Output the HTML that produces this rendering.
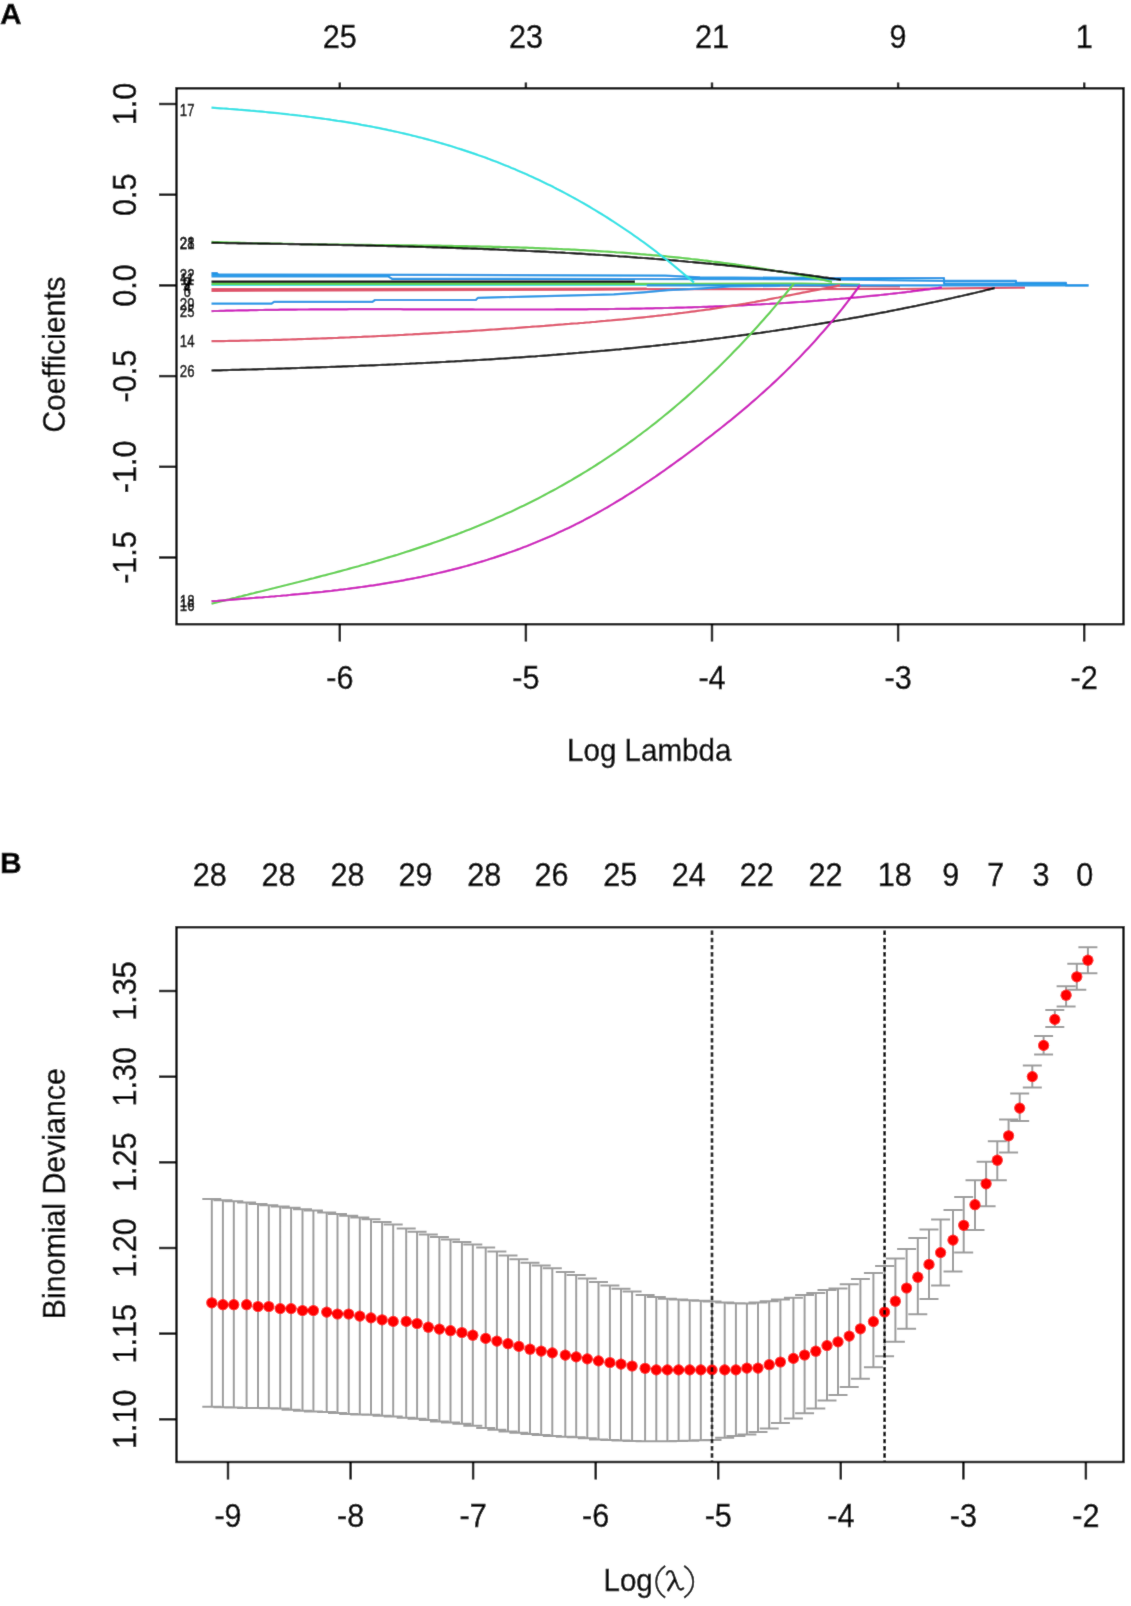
<!DOCTYPE html><html><head><meta charset="utf-8"><style>html,body{margin:0;padding:0;background:#fff;width:1131px;height:1606px;overflow:hidden}svg{position:absolute;left:0;top:0;display:block}text{font-family:"Liberation Sans",sans-serif;fill:#000;stroke:#000;stroke-width:0.4px}</style></head><body>
<svg width="1131" height="1606" viewBox="0 0 1131 1606">
<defs><filter id="soft" x="0" y="0" width="1131" height="1606" filterUnits="userSpaceOnUse"><feConvolveMatrix order="3" kernelMatrix="0.015 0.065 0.015 0.065 0.68 0.065 0.015 0.065 0.015" edgeMode="duplicate"/></filter></defs>
<g filter="url(#soft)"><rect x="0" y="0" width="1131" height="1606" fill="#fff"/>
<text x="0" y="24" font-size="30" font-weight="bold">A</text>
<text x="0" y="872.5" font-size="30" font-weight="bold">B</text>
<path d="M211.5,290.8 L600.0,289.6 L646.0,289.2 L900.0,289.0 L1025.0,287.6" fill="none" stroke="#DF536B" stroke-width="2.2" stroke-linejoin="round" />
<path d="M211.5,289.2 L646.7,288.6" fill="none" stroke="#DF536B" stroke-width="2.2" stroke-linejoin="round" />
<path d="M646.7,285.0 L712.0,285.0 L900.0,286.5" fill="none" stroke="#DF536B" stroke-width="2.2" stroke-linejoin="round" />
<path d="M211.5,284.9 L646.7,284.9" fill="none" stroke="#28E2E5" stroke-width="2.2" stroke-linejoin="round" />
<path d="M211.5,283.8 L700.0,283.8 L802.0,283.5 L860.0,284.5" fill="none" stroke="#61D04F" stroke-width="2.2" stroke-linejoin="round" />
<path d="M211.5,281.7 L635.0,281.7" fill="none" stroke="#000000" stroke-width="2.2" stroke-linejoin="round" />
<path d="M646.7,285.4 L1066.0,285.4" fill="none" stroke="#2297E6" stroke-width="2.2" stroke-linejoin="round" />
<path d="M211.5,276.4 L388.0,276.4 L392.0,278.8 L830.0,279.3 L944.0,281.0 L944.0,283.6 L1066.0,283.6 L1066.0,285.3 L1088.5,285.3" fill="none" stroke="#2297E6" stroke-width="2.2" stroke-linejoin="round" />
<path d="M211.5,274.6 L440.0,274.8 L665.0,275.6 L700.0,277.3 L830.0,278.2 L944.0,278.2 L944.0,280.8 L1016.0,280.8 L1016.0,282.8 L1066.0,282.8 L1066.0,285.3 L1088.5,285.3" fill="none" stroke="#2297E6" stroke-width="2.2" stroke-linejoin="round" />
<path d="M211.5,273.2 L217.0,273.2 L218.0,274.6" fill="none" stroke="#2297E6" stroke-width="2.2" stroke-linejoin="round" />
<path d="M211.5,303.6 L271.6,303.6 L274.0,301.8 L372.4,301.8 L375.0,300.0 L475.8,300.0 L478.0,297.8 L613.8,294.4 L643.5,292.3 L668.0,290.2 L700.0,288.6 L730.0,286.5 L780.0,285.8" fill="none" stroke="#2297E6" stroke-width="2.2" stroke-linejoin="round" />
<path d="M211.5,311.1 L214.5,311.0 L217.5,311.0 L220.5,310.9 L223.5,310.8 L226.5,310.7 L229.5,310.6 L232.5,310.6 L235.5,310.5 L238.5,310.4 L241.5,310.4 L244.5,310.3 L247.5,310.3 L250.5,310.2 L253.5,310.1 L256.5,310.1 L259.5,310.0 L262.5,310.0 L265.5,309.9 L268.5,309.9 L271.5,309.9 L274.5,309.8 L277.5,309.8 L280.5,309.7 L283.5,309.7 L286.5,309.7 L289.5,309.6 L292.5,309.6 L295.5,309.6 L298.5,309.5 L301.5,309.5 L304.5,309.5 L307.5,309.5 L310.5,309.4 L313.5,309.4 L316.5,309.4 L319.5,309.4 L322.5,309.4 L325.5,309.3 L328.5,309.3 L331.5,309.3 L334.5,309.3 L337.5,309.3 L340.5,309.3 L343.5,309.3 L346.5,309.3 L349.5,309.2 L352.5,309.2 L355.5,309.2 L358.5,309.2 L361.5,309.2 L364.5,309.2 L367.5,309.2 L370.5,309.2 L373.5,309.2 L376.5,309.2 L379.5,309.2 L382.5,309.2 L385.5,309.2 L388.5,309.2 L391.5,309.2 L394.5,309.2 L397.5,309.2 L400.5,309.2 L403.5,309.3 L406.5,309.3 L409.5,309.3 L412.5,309.3 L415.5,309.3 L418.5,309.3 L421.5,309.3 L424.5,309.3 L427.5,309.3 L430.5,309.3 L433.5,309.3 L436.5,309.3 L439.5,309.3 L442.5,309.4 L445.5,309.4 L448.5,309.4 L451.5,309.4 L454.5,309.4 L457.5,309.4 L460.5,309.4 L463.5,309.4 L466.5,309.4 L469.5,309.4 L472.5,309.4 L475.5,309.5 L478.5,309.5 L481.5,309.5 L484.5,309.5 L487.5,309.5 L490.5,309.5 L493.5,309.5 L496.5,309.5 L499.5,309.5 L502.5,309.5 L505.5,309.5 L508.5,309.5 L511.5,309.5 L514.5,309.5 L517.5,309.5 L520.5,309.5 L523.5,309.5 L526.5,309.5 L529.5,309.5 L532.5,309.5 L535.5,309.5 L538.5,309.5 L541.5,309.5 L544.5,309.5 L547.5,309.5 L550.5,309.5 L553.5,309.5 L556.5,309.4 L559.5,309.4 L562.5,309.4 L565.5,309.4 L568.5,309.4 L571.5,309.4 L574.5,309.4 L577.5,309.3 L580.5,309.3 L583.5,309.3 L586.5,309.3 L589.5,309.2 L592.5,309.2 L595.5,309.2 L598.5,309.2 L601.5,309.1 L604.5,309.1 L607.5,309.1 L610.5,309.0 L613.5,309.0 L616.5,308.9 L619.5,308.9 L622.5,308.9 L625.5,308.8 L628.5,308.8 L631.5,308.7 L634.5,308.7 L637.5,308.6 L640.5,308.6 L643.5,308.5 L646.5,308.4 L649.5,308.4 L652.5,308.3 L655.5,308.2 L658.5,308.2 L661.5,308.1 L664.5,308.0 L667.5,308.0 L670.5,307.9 L673.5,307.8 L676.5,307.7 L679.5,307.6 L682.5,307.6 L685.5,307.5 L688.5,307.4 L691.5,307.3 L694.5,307.2 L697.5,307.1 L700.5,307.0 L703.5,306.9 L706.5,306.8 L709.5,306.7 L712.5,306.6 L715.5,306.4 L718.5,306.3 L721.5,306.2 L724.5,306.1 L727.5,306.0 L730.5,305.8 L733.5,305.7 L736.5,305.6 L739.5,305.4 L742.5,305.3 L745.5,305.1 L748.5,305.0 L751.5,304.8 L754.5,304.7 L757.5,304.5 L760.5,304.4 L763.5,304.2 L766.5,304.0 L769.5,303.9 L772.5,303.7 L775.5,303.5 L778.5,303.3 L781.5,303.2 L784.5,303.0 L787.5,302.8 L790.5,302.6 L793.5,302.4 L796.5,302.2 L799.5,302.0 L802.5,301.8 L805.5,301.6 L808.5,301.3 L811.5,301.1 L814.5,300.9 L817.5,300.7 L820.5,300.4 L823.5,300.2 L826.5,300.0 L829.5,299.7 L832.5,299.5 L835.5,299.2 L838.5,299.0 L841.5,298.7 L844.5,298.5 L847.5,298.2 L850.5,297.9 L853.5,297.6 L856.5,297.4 L859.5,297.1 L862.5,296.8 L865.5,296.5 L868.5,296.2 L871.5,295.9 L874.5,295.6 L877.5,295.3 L880.5,295.0 L883.5,294.7 L886.5,294.3 L889.5,294.0 L892.5,293.7 L895.5,293.3 L898.5,293.0 L901.5,292.7 L904.5,292.3 L907.5,291.9 L910.5,291.6 L913.5,291.2 L916.5,290.9 L919.5,290.5 L922.5,290.1 L925.5,289.7 L928.5,289.3 L931.5,288.9 L934.5,288.5 L937.5,288.1 L940.5,287.7 L942.0,287.5" fill="none" stroke="#CD0BBC" stroke-width="2.2" stroke-linejoin="round" />
<path d="M211.5,341.2 L214.5,341.2 L217.5,341.1 L220.5,341.1 L223.5,341.1 L226.5,341.0 L229.5,340.9 L232.5,340.9 L235.5,340.8 L238.5,340.8 L241.5,340.7 L244.5,340.7 L247.5,340.6 L250.5,340.5 L253.5,340.5 L256.5,340.4 L259.5,340.3 L262.5,340.2 L265.5,340.2 L268.5,340.1 L271.5,340.0 L274.5,339.9 L277.5,339.9 L280.5,339.8 L283.5,339.7 L286.5,339.6 L289.5,339.5 L292.5,339.4 L295.5,339.3 L298.5,339.2 L301.5,339.1 L304.5,339.0 L307.5,338.9 L310.5,338.8 L313.5,338.7 L316.5,338.6 L319.5,338.5 L322.5,338.4 L325.5,338.3 L328.5,338.2 L331.5,338.1 L334.5,338.0 L337.5,337.9 L340.5,337.7 L343.5,337.6 L346.5,337.5 L349.5,337.4 L352.5,337.2 L355.5,337.1 L358.5,337.0 L361.5,336.9 L364.5,336.7 L367.5,336.6 L370.5,336.5 L373.5,336.3 L376.5,336.2 L379.5,336.0 L382.5,335.9 L385.5,335.8 L388.5,335.6 L391.5,335.5 L394.5,335.3 L397.5,335.2 L400.5,335.0 L403.5,334.9 L406.5,334.7 L409.5,334.5 L412.5,334.4 L415.5,334.2 L418.5,334.1 L421.5,333.9 L424.5,333.7 L427.5,333.6 L430.5,333.4 L433.5,333.2 L436.5,333.1 L439.5,332.9 L442.5,332.7 L445.5,332.5 L448.5,332.4 L451.5,332.2 L454.5,332.0 L457.5,331.8 L460.5,331.6 L463.5,331.4 L466.5,331.3 L469.5,331.1 L472.5,330.9 L475.5,330.7 L478.5,330.5 L481.5,330.3 L484.5,330.1 L487.5,329.9 L490.5,329.7 L493.5,329.5 L496.5,329.3 L499.5,329.1 L502.5,328.9 L505.5,328.7 L508.5,328.5 L511.5,328.3 L514.5,328.1 L517.5,327.8 L520.5,327.6 L523.5,327.4 L526.5,327.2 L529.5,327.0 L532.5,326.7 L535.5,326.5 L538.5,326.3 L541.5,326.1 L544.5,325.9 L547.5,325.6 L550.5,325.4 L553.5,325.2 L556.5,324.9 L559.5,324.7 L562.5,324.5 L565.5,324.2 L568.5,324.0 L571.5,323.7 L574.5,323.5 L577.5,323.3 L580.5,323.0 L583.5,322.8 L586.5,322.5 L589.5,322.3 L592.5,322.0 L595.5,321.8 L598.5,321.5 L601.5,321.2 L604.5,321.0 L607.5,320.7 L610.5,320.5 L613.5,320.2 L616.5,319.9 L619.5,319.6 L622.5,319.4 L625.5,319.1 L628.5,318.8 L631.5,318.5 L634.5,318.2 L637.5,317.9 L640.5,317.6 L643.5,317.3 L646.5,317.0 L649.5,316.7 L652.5,316.3 L655.5,316.0 L658.5,315.7 L661.5,315.4 L664.5,315.0 L667.5,314.7 L670.5,314.3 L673.5,314.0 L676.5,313.6 L679.5,313.2 L682.5,312.9 L685.5,312.5 L688.5,312.1 L691.5,311.7 L694.5,311.3 L697.5,310.9 L700.5,310.5 L703.5,310.1 L706.5,309.7 L709.5,309.3 L712.5,308.8 L715.5,308.4 L718.5,307.9 L721.5,307.5 L724.5,307.0 L727.5,306.5 L730.5,306.1 L733.5,305.6 L736.5,305.1 L739.5,304.6 L742.5,304.1 L745.5,303.6 L748.5,303.0 L751.5,302.5 L754.5,302.0 L757.5,301.4 L760.5,300.9 L763.5,300.3 L766.5,299.8 L769.5,299.2 L772.5,298.6 L775.5,298.0 L778.5,297.5 L781.5,296.9 L784.5,296.3 L787.5,295.7 L790.5,295.1 L793.5,294.5 L796.5,293.9 L799.5,293.3 L802.5,292.7 L805.5,292.2 L808.5,291.6 L811.5,291.0 L814.5,290.4 L817.5,289.8 L820.5,289.2 L823.5,288.6 L826.5,288.0 L829.5,287.4 L832.5,286.8 L835.5,286.3 L838.5,285.7 L840.0,285.4" fill="none" stroke="#DF536B" stroke-width="2.2" stroke-linejoin="round" />
<path d="M211.5,370.5 L214.5,370.4 L217.5,370.3 L220.5,370.3 L223.5,370.2 L226.5,370.1 L229.5,370.0 L232.5,369.9 L235.5,369.9 L238.5,369.8 L241.5,369.7 L244.5,369.6 L247.5,369.5 L250.5,369.5 L253.5,369.4 L256.5,369.3 L259.5,369.2 L262.5,369.1 L265.5,369.0 L268.5,368.9 L271.5,368.8 L274.5,368.8 L277.5,368.7 L280.5,368.6 L283.5,368.5 L286.5,368.4 L289.5,368.3 L292.5,368.2 L295.5,368.1 L298.5,368.0 L301.5,367.9 L304.5,367.8 L307.5,367.7 L310.5,367.6 L313.5,367.5 L316.5,367.4 L319.5,367.3 L322.5,367.2 L325.5,367.1 L328.5,367.0 L331.5,366.9 L334.5,366.8 L337.5,366.7 L340.5,366.6 L343.5,366.4 L346.5,366.3 L349.5,366.2 L352.5,366.1 L355.5,366.0 L358.5,365.9 L361.5,365.7 L364.5,365.6 L367.5,365.5 L370.5,365.4 L373.5,365.3 L376.5,365.1 L379.5,365.0 L382.5,364.9 L385.5,364.8 L388.5,364.6 L391.5,364.5 L394.5,364.4 L397.5,364.2 L400.5,364.1 L403.5,364.0 L406.5,363.8 L409.5,363.7 L412.5,363.5 L415.5,363.4 L418.5,363.2 L421.5,363.1 L424.5,363.0 L427.5,362.8 L430.5,362.7 L433.5,362.5 L436.5,362.3 L439.5,362.2 L442.5,362.0 L445.5,361.9 L448.5,361.7 L451.5,361.5 L454.5,361.4 L457.5,361.2 L460.5,361.1 L463.5,360.9 L466.5,360.7 L469.5,360.5 L472.5,360.4 L475.5,360.2 L478.5,360.0 L481.5,359.8 L484.5,359.6 L487.5,359.5 L490.5,359.3 L493.5,359.1 L496.5,358.9 L499.5,358.7 L502.5,358.5 L505.5,358.3 L508.5,358.1 L511.5,357.9 L514.5,357.7 L517.5,357.5 L520.5,357.3 L523.5,357.1 L526.5,356.9 L529.5,356.7 L532.5,356.5 L535.5,356.3 L538.5,356.0 L541.5,355.8 L544.5,355.6 L547.5,355.4 L550.5,355.1 L553.5,354.9 L556.5,354.7 L559.5,354.4 L562.5,354.2 L565.5,354.0 L568.5,353.7 L571.5,353.5 L574.5,353.2 L577.5,353.0 L580.5,352.7 L583.5,352.5 L586.5,352.2 L589.5,352.0 L592.5,351.7 L595.5,351.5 L598.5,351.2 L601.5,350.9 L604.5,350.7 L607.5,350.4 L610.5,350.1 L613.5,349.8 L616.5,349.5 L619.5,349.3 L622.5,349.0 L625.5,348.7 L628.5,348.4 L631.5,348.1 L634.5,347.8 L637.5,347.5 L640.5,347.2 L643.5,346.9 L646.5,346.6 L649.5,346.3 L652.5,346.0 L655.5,345.7 L658.5,345.3 L661.5,345.0 L664.5,344.7 L667.5,344.4 L670.5,344.0 L673.5,343.7 L676.5,343.4 L679.5,343.0 L682.5,342.7 L685.5,342.4 L688.5,342.0 L691.5,341.7 L694.5,341.3 L697.5,340.9 L700.5,340.6 L703.5,340.2 L706.5,339.9 L709.5,339.5 L712.5,339.1 L715.5,338.7 L718.5,338.4 L721.5,338.0 L724.5,337.6 L727.5,337.2 L730.5,336.8 L733.5,336.4 L736.5,336.0 L739.5,335.6 L742.5,335.2 L745.5,334.8 L748.5,334.4 L751.5,334.0 L754.5,333.6 L757.5,333.2 L760.5,332.8 L763.5,332.3 L766.5,331.9 L769.5,331.5 L772.5,331.0 L775.5,330.6 L778.5,330.1 L781.5,329.7 L784.5,329.2 L787.5,328.8 L790.5,328.3 L793.5,327.9 L796.5,327.4 L799.5,326.9 L802.5,326.5 L805.5,326.0 L808.5,325.5 L811.5,325.0 L814.5,324.6 L817.5,324.1 L820.5,323.6 L823.5,323.1 L826.5,322.6 L829.5,322.1 L832.5,321.6 L835.5,321.0 L838.5,320.5 L841.5,320.0 L844.5,319.5 L847.5,319.0 L850.5,318.4 L853.5,317.9 L856.5,317.4 L859.5,316.8 L862.5,316.3 L865.5,315.7 L868.5,315.2 L871.5,314.6 L874.5,314.1 L877.5,313.5 L880.5,312.9 L883.5,312.3 L886.5,311.8 L889.5,311.2 L892.5,310.6 L895.5,310.0 L898.5,309.4 L901.5,308.8 L904.5,308.2 L907.5,307.6 L910.5,307.0 L913.5,306.4 L916.5,305.8 L919.5,305.1 L922.5,304.5 L925.5,303.9 L928.5,303.2 L931.5,302.6 L934.5,302.0 L937.5,301.3 L940.5,300.7 L943.5,300.0 L946.5,299.3 L949.5,298.7 L952.5,298.0 L955.5,297.3 L958.5,296.6 L961.5,296.0 L964.5,295.3 L967.5,294.6 L970.5,293.9 L973.5,293.2 L976.5,292.5 L979.5,291.8 L982.5,291.1 L985.5,290.3 L988.5,289.6 L991.5,288.9 L994.5,288.1 L994.7,288.1" fill="none" stroke="#000000" stroke-width="2.2" stroke-linejoin="round" />
<path d="M211.5,241.9 L214.5,242.0 L217.5,242.1 L220.5,242.2 L223.5,242.3 L226.5,242.4 L229.5,242.5 L232.5,242.6 L235.5,242.6 L238.5,242.7 L241.5,242.8 L244.5,242.9 L247.5,243.0 L250.5,243.1 L253.5,243.1 L256.5,243.2 L259.5,243.3 L262.5,243.4 L265.5,243.4 L268.5,243.5 L271.5,243.6 L274.5,243.6 L277.5,243.7 L280.5,243.7 L283.5,243.8 L286.5,243.8 L289.5,243.9 L292.5,243.9 L295.5,244.0 L298.5,244.0 L301.5,244.1 L304.5,244.1 L307.5,244.2 L310.5,244.2 L313.5,244.3 L316.5,244.3 L319.5,244.4 L322.5,244.4 L325.5,244.4 L328.5,244.5 L331.5,244.5 L334.5,244.5 L337.5,244.6 L340.5,244.6 L343.5,244.6 L346.5,244.7 L349.5,244.7 L352.5,244.7 L355.5,244.8 L358.5,244.8 L361.5,244.8 L364.5,244.9 L367.5,244.9 L370.5,244.9 L373.5,245.0 L376.5,245.0 L379.5,245.0 L382.5,245.1 L385.5,245.1 L388.5,245.1 L391.5,245.2 L394.5,245.2 L397.5,245.2 L400.5,245.3 L403.5,245.3 L406.5,245.3 L409.5,245.4 L412.5,245.4 L415.5,245.4 L418.5,245.5 L421.5,245.5 L424.5,245.5 L427.5,245.6 L430.5,245.6 L433.5,245.7 L436.5,245.7 L439.5,245.7 L442.5,245.8 L445.5,245.8 L448.5,245.9 L451.5,245.9 L454.5,246.0 L457.5,246.0 L460.5,246.1 L463.5,246.1 L466.5,246.2 L469.5,246.3 L472.5,246.3 L475.5,246.4 L478.5,246.4 L481.5,246.5 L484.5,246.6 L487.5,246.6 L490.5,246.7 L493.5,246.8 L496.5,246.9 L499.5,246.9 L502.5,247.0 L505.5,247.1 L508.5,247.2 L511.5,247.3 L514.5,247.4 L517.5,247.4 L520.5,247.5 L523.5,247.6 L526.5,247.7 L529.5,247.8 L532.5,247.9 L535.5,248.1 L538.5,248.2 L541.5,248.3 L544.5,248.4 L547.5,248.5 L550.5,248.6 L553.5,248.8 L556.5,248.9 L559.5,249.0 L562.5,249.2 L565.5,249.3 L568.5,249.4 L571.5,249.6 L574.5,249.7 L577.5,249.9 L580.5,250.1 L583.5,250.2 L586.5,250.4 L589.5,250.6 L592.5,250.7 L595.5,250.9 L598.5,251.1 L601.5,251.3 L604.5,251.5 L607.5,251.6 L610.5,251.8 L613.5,252.0 L616.5,252.3 L619.5,252.5 L622.5,252.7 L625.5,252.9 L628.5,253.1 L631.5,253.4 L634.5,253.6 L637.5,253.8 L640.5,254.1 L643.5,254.3 L646.5,254.6 L649.5,254.8 L652.5,255.1 L655.5,255.3 L658.5,255.6 L661.5,255.9 L664.5,256.2 L667.5,256.5 L670.5,256.8 L673.5,257.1 L676.5,257.4 L679.5,257.7 L682.5,258.0 L685.5,258.3 L688.5,258.6 L691.5,259.0 L694.5,259.3 L697.5,259.6 L700.5,260.0 L703.5,260.4 L706.5,260.7 L709.5,261.1 L712.5,261.5 L715.5,261.8 L718.5,262.2 L721.5,262.6 L724.5,263.0 L727.5,263.4 L730.5,263.8 L733.5,264.2 L736.5,264.7 L739.5,265.1 L742.5,265.5 L745.5,266.0 L748.5,266.4 L751.5,266.9 L754.5,267.3 L757.5,267.8 L760.5,268.3 L763.5,268.8 L766.5,269.3 L769.5,269.8 L772.5,270.3 L775.5,270.8 L778.5,271.3 L781.5,271.8 L784.5,272.4 L787.5,272.9 L790.5,273.5 L793.5,274.0 L796.5,274.6 L799.5,275.1 L802.5,275.7 L805.5,276.3 L808.5,276.9 L811.5,277.5 L814.5,278.1 L817.5,278.7 L820.5,279.4 L823.5,280.0 L826.5,280.7 L829.5,281.3 L832.0,281.9" fill="none" stroke="#61D04F" stroke-width="2.2" stroke-linejoin="round" />
<path d="M211.5,242.8 L214.5,242.9 L217.5,242.9 L220.5,243.0 L223.5,243.0 L226.5,243.1 L229.5,243.1 L232.5,243.2 L235.5,243.2 L238.5,243.3 L241.5,243.3 L244.5,243.3 L247.5,243.4 L250.5,243.4 L253.5,243.5 L256.5,243.5 L259.5,243.6 L262.5,243.6 L265.5,243.7 L268.5,243.7 L271.5,243.8 L274.5,243.8 L277.5,243.9 L280.5,243.9 L283.5,244.0 L286.5,244.0 L289.5,244.1 L292.5,244.1 L295.5,244.2 L298.5,244.2 L301.5,244.3 L304.5,244.3 L307.5,244.4 L310.5,244.4 L313.5,244.5 L316.5,244.5 L319.5,244.6 L322.5,244.7 L325.5,244.7 L328.5,244.8 L331.5,244.8 L334.5,244.9 L337.5,244.9 L340.5,245.0 L343.5,245.1 L346.5,245.1 L349.5,245.2 L352.5,245.2 L355.5,245.3 L358.5,245.4 L361.5,245.4 L364.5,245.5 L367.5,245.6 L370.5,245.6 L373.5,245.7 L376.5,245.8 L379.5,245.9 L382.5,245.9 L385.5,246.0 L388.5,246.1 L391.5,246.1 L394.5,246.2 L397.5,246.3 L400.5,246.4 L403.5,246.5 L406.5,246.5 L409.5,246.6 L412.5,246.7 L415.5,246.8 L418.5,246.9 L421.5,246.9 L424.5,247.0 L427.5,247.1 L430.5,247.2 L433.5,247.3 L436.5,247.4 L439.5,247.5 L442.5,247.6 L445.5,247.7 L448.5,247.8 L451.5,247.9 L454.5,248.0 L457.5,248.1 L460.5,248.2 L463.5,248.3 L466.5,248.4 L469.5,248.5 L472.5,248.6 L475.5,248.7 L478.5,248.8 L481.5,248.9 L484.5,249.1 L487.5,249.2 L490.5,249.3 L493.5,249.4 L496.5,249.5 L499.5,249.7 L502.5,249.8 L505.5,249.9 L508.5,250.1 L511.5,250.2 L514.5,250.3 L517.5,250.5 L520.5,250.6 L523.5,250.7 L526.5,250.9 L529.5,251.0 L532.5,251.2 L535.5,251.3 L538.5,251.4 L541.5,251.6 L544.5,251.7 L547.5,251.9 L550.5,252.1 L553.5,252.2 L556.5,252.4 L559.5,252.5 L562.5,252.7 L565.5,252.9 L568.5,253.0 L571.5,253.2 L574.5,253.4 L577.5,253.6 L580.5,253.7 L583.5,253.9 L586.5,254.1 L589.5,254.3 L592.5,254.5 L595.5,254.7 L598.5,254.8 L601.5,255.0 L604.5,255.2 L607.5,255.4 L610.5,255.6 L613.5,255.8 L616.5,256.0 L619.5,256.3 L622.5,256.5 L625.5,256.7 L628.5,256.9 L631.5,257.1 L634.5,257.3 L637.5,257.6 L640.5,257.8 L643.5,258.0 L646.5,258.2 L649.5,258.5 L652.5,258.7 L655.5,259.0 L658.5,259.2 L661.5,259.4 L664.5,259.7 L667.5,259.9 L670.5,260.2 L673.5,260.4 L676.5,260.7 L679.5,261.0 L682.5,261.2 L685.5,261.5 L688.5,261.8 L691.5,262.0 L694.5,262.3 L697.5,262.6 L700.5,262.9 L703.5,263.2 L706.5,263.5 L709.5,263.7 L712.5,264.0 L715.5,264.3 L718.5,264.6 L721.5,264.9 L724.5,265.2 L727.5,265.6 L730.5,265.9 L733.5,266.2 L736.5,266.5 L739.5,266.8 L742.5,267.2 L745.5,267.5 L748.5,267.8 L751.5,268.2 L754.5,268.5 L757.5,268.8 L760.5,269.2 L763.5,269.5 L766.5,269.9 L769.5,270.2 L772.5,270.6 L775.5,271.0 L778.5,271.3 L781.5,271.7 L784.5,272.1 L787.5,272.5 L790.5,272.8 L793.5,273.2 L796.5,273.6 L799.5,274.0 L802.5,274.4 L805.5,274.8 L808.5,275.2 L811.5,275.6 L814.5,276.0 L817.5,276.4 L820.5,276.8 L823.5,277.3 L826.5,277.7 L829.5,278.1 L832.5,278.5 L835.5,279.0 L838.5,279.4 L841.0,279.8" fill="none" stroke="#000000" stroke-width="2.2" stroke-linejoin="round" />
<path d="M211.5,107.7 L214.5,107.9 L217.5,108.1 L220.5,108.3 L223.5,108.5 L226.5,108.7 L229.5,109.0 L232.5,109.2 L235.5,109.4 L238.5,109.7 L241.5,109.9 L244.5,110.1 L247.5,110.4 L250.5,110.7 L253.5,110.9 L256.5,111.2 L259.5,111.4 L262.5,111.7 L265.5,112.0 L268.5,112.3 L271.5,112.6 L274.5,112.9 L277.5,113.2 L280.5,113.5 L283.5,113.8 L286.5,114.1 L289.5,114.5 L292.5,114.8 L295.5,115.1 L298.5,115.5 L301.5,115.9 L304.5,116.2 L307.5,116.6 L310.5,117.0 L313.5,117.4 L316.5,117.8 L319.5,118.2 L322.5,118.6 L325.5,119.0 L328.5,119.4 L331.5,119.9 L334.5,120.3 L337.5,120.8 L340.5,121.2 L343.5,121.7 L346.5,122.2 L349.5,122.7 L352.5,123.2 L355.5,123.7 L358.5,124.2 L361.5,124.8 L364.5,125.3 L367.5,125.9 L370.5,126.4 L373.5,127.0 L376.5,127.6 L379.5,128.2 L382.5,128.8 L385.5,129.4 L388.5,130.1 L391.5,130.7 L394.5,131.4 L397.5,132.0 L400.5,132.7 L403.5,133.4 L406.5,134.1 L409.5,134.8 L412.5,135.6 L415.5,136.3 L418.5,137.1 L421.5,137.8 L424.5,138.6 L427.5,139.4 L430.5,140.2 L433.5,141.0 L436.5,141.9 L439.5,142.7 L442.5,143.6 L445.5,144.5 L448.5,145.4 L451.5,146.3 L454.5,147.2 L457.5,148.2 L460.5,149.1 L463.5,150.1 L466.5,151.1 L469.5,152.1 L472.5,153.1 L475.5,154.1 L478.5,155.2 L481.5,156.2 L484.5,157.3 L487.5,158.4 L490.5,159.6 L493.5,160.7 L496.5,161.8 L499.5,163.0 L502.5,164.2 L505.5,165.4 L508.5,166.6 L511.5,167.9 L514.5,169.1 L517.5,170.4 L520.5,171.7 L523.5,173.0 L526.5,174.3 L529.5,175.7 L532.5,177.0 L535.5,178.4 L538.5,179.8 L541.5,181.2 L544.5,182.7 L547.5,184.2 L550.5,185.6 L553.5,187.1 L556.5,188.7 L559.5,190.2 L562.5,191.8 L565.5,193.4 L568.5,195.0 L571.5,196.6 L574.5,198.2 L577.5,199.9 L580.5,201.6 L583.5,203.3 L586.5,205.0 L589.5,206.8 L592.5,208.6 L595.5,210.4 L598.5,212.2 L601.5,214.0 L604.5,215.9 L607.5,217.8 L610.5,219.7 L613.5,221.6 L616.5,223.6 L619.5,225.6 L622.5,227.6 L625.5,229.6 L628.5,231.6 L631.5,233.7 L634.5,235.8 L637.5,237.9 L640.5,240.1 L643.5,242.2 L646.5,244.4 L649.5,246.7 L652.5,248.9 L655.5,251.2 L658.5,253.5 L661.5,255.8 L664.5,258.1 L667.5,260.5 L670.5,262.9 L673.5,265.3 L676.5,267.8 L679.5,270.3 L682.5,272.8 L685.5,275.3 L688.5,277.8 L691.5,280.4 L694.0,282.6" fill="none" stroke="#28E2E5" stroke-width="2.2" stroke-linejoin="round" />
<path d="M211.5,603.8 L214.5,603.0 L217.5,602.2 L220.5,601.5 L223.5,600.7 L226.5,599.9 L229.5,599.2 L232.5,598.4 L235.5,597.7 L238.5,596.9 L241.5,596.2 L244.5,595.4 L247.5,594.7 L250.5,593.9 L253.5,593.2 L256.5,592.4 L259.5,591.7 L262.5,591.0 L265.5,590.2 L268.5,589.5 L271.5,588.7 L274.5,588.0 L277.5,587.2 L280.5,586.5 L283.5,585.7 L286.5,585.0 L289.5,584.2 L292.5,583.5 L295.5,582.7 L298.5,582.0 L301.5,581.2 L304.5,580.5 L307.5,579.7 L310.5,578.9 L313.5,578.2 L316.5,577.4 L319.5,576.6 L322.5,575.8 L325.5,575.1 L328.5,574.3 L331.5,573.5 L334.5,572.7 L337.5,571.9 L340.5,571.1 L343.5,570.3 L346.5,569.5 L349.5,568.6 L352.5,567.8 L355.5,567.0 L358.5,566.2 L361.5,565.3 L364.5,564.5 L367.5,563.6 L370.5,562.8 L373.5,561.9 L376.5,561.0 L379.5,560.1 L382.5,559.2 L385.5,558.3 L388.5,557.4 L391.5,556.5 L394.5,555.6 L397.5,554.7 L400.5,553.7 L403.5,552.8 L406.5,551.8 L409.5,550.9 L412.5,549.9 L415.5,548.9 L418.5,547.9 L421.5,546.9 L424.5,545.9 L427.5,544.9 L430.5,543.9 L433.5,542.8 L436.5,541.8 L439.5,540.7 L442.5,539.6 L445.5,538.5 L448.5,537.4 L451.5,536.3 L454.5,535.2 L457.5,534.1 L460.5,532.9 L463.5,531.8 L466.5,530.6 L469.5,529.4 L472.5,528.2 L475.5,527.0 L478.5,525.8 L481.5,524.5 L484.5,523.3 L487.5,522.0 L490.5,520.7 L493.5,519.4 L496.5,518.1 L499.5,516.8 L502.5,515.5 L505.5,514.1 L508.5,512.7 L511.5,511.4 L514.5,510.0 L517.5,508.5 L520.5,507.1 L523.5,505.7 L526.5,504.2 L529.5,502.7 L532.5,501.2 L535.5,499.7 L538.5,498.2 L541.5,496.6 L544.5,495.0 L547.5,493.4 L550.5,491.8 L553.5,490.2 L556.5,488.6 L559.5,486.9 L562.5,485.2 L565.5,483.5 L568.5,481.8 L571.5,480.1 L574.5,478.3 L577.5,476.5 L580.5,474.7 L583.5,472.9 L586.5,471.1 L589.5,469.2 L592.5,467.4 L595.5,465.5 L598.5,463.5 L601.5,461.6 L604.5,459.6 L607.5,457.6 L610.5,455.6 L613.5,453.6 L616.5,451.6 L619.5,449.5 L622.5,447.4 L625.5,445.3 L628.5,443.1 L631.5,441.0 L634.5,438.8 L637.5,436.5 L640.5,434.3 L643.5,432.0 L646.5,429.8 L649.5,427.5 L652.5,425.1 L655.5,422.8 L658.5,420.4 L661.5,418.0 L664.5,415.5 L667.5,413.1 L670.5,410.6 L673.5,408.1 L676.5,405.5 L679.5,403.0 L682.5,400.4 L685.5,397.8 L688.5,395.1 L691.5,392.5 L694.5,389.8 L697.5,387.0 L700.5,384.3 L703.5,381.5 L706.5,378.7 L709.5,375.8 L712.5,373.0 L715.5,370.1 L718.5,367.2 L721.5,364.2 L724.5,361.2 L727.5,358.2 L730.5,355.2 L733.5,352.1 L736.5,349.0 L739.5,345.9 L742.5,342.7 L745.5,339.5 L748.5,336.3 L751.5,333.0 L754.5,329.8 L757.5,326.4 L760.5,323.1 L763.5,319.7 L766.5,316.3 L769.5,312.9 L772.5,309.4 L775.5,305.9 L778.5,302.3 L781.5,298.8 L784.5,295.2 L787.5,291.5 L790.5,287.8 L793.5,284.1 L794.0,283.5" fill="none" stroke="#61D04F" stroke-width="2.2" stroke-linejoin="round" />
<path d="M211.5,601.2 L214.5,601.0 L217.5,600.8 L220.5,600.5 L223.5,600.3 L226.5,600.1 L229.5,599.8 L232.5,599.6 L235.5,599.4 L238.5,599.1 L241.5,598.9 L244.5,598.7 L247.5,598.5 L250.5,598.2 L253.5,598.0 L256.5,597.7 L259.5,597.5 L262.5,597.3 L265.5,597.0 L268.5,596.8 L271.5,596.5 L274.5,596.3 L277.5,596.0 L280.5,595.8 L283.5,595.5 L286.5,595.3 L289.5,595.0 L292.5,594.7 L295.5,594.4 L298.5,594.2 L301.5,593.9 L304.5,593.6 L307.5,593.3 L310.5,593.0 L313.5,592.7 L316.5,592.4 L319.5,592.1 L322.5,591.8 L325.5,591.4 L328.5,591.1 L331.5,590.8 L334.5,590.4 L337.5,590.1 L340.5,589.7 L343.5,589.4 L346.5,589.0 L349.5,588.6 L352.5,588.2 L355.5,587.8 L358.5,587.4 L361.5,587.0 L364.5,586.6 L367.5,586.2 L370.5,585.7 L373.5,585.3 L376.5,584.8 L379.5,584.4 L382.5,583.9 L385.5,583.4 L388.5,582.9 L391.5,582.4 L394.5,581.9 L397.5,581.4 L400.5,580.8 L403.5,580.3 L406.5,579.7 L409.5,579.2 L412.5,578.6 L415.5,578.0 L418.5,577.4 L421.5,576.8 L424.5,576.1 L427.5,575.5 L430.5,574.8 L433.5,574.2 L436.5,573.5 L439.5,572.8 L442.5,572.1 L445.5,571.4 L448.5,570.6 L451.5,569.9 L454.5,569.1 L457.5,568.4 L460.5,567.6 L463.5,566.8 L466.5,566.0 L469.5,565.1 L472.5,564.3 L475.5,563.4 L478.5,562.5 L481.5,561.6 L484.5,560.7 L487.5,559.8 L490.5,558.8 L493.5,557.9 L496.5,556.9 L499.5,555.9 L502.5,554.9 L505.5,553.9 L508.5,552.8 L511.5,551.8 L514.5,550.7 L517.5,549.6 L520.5,548.5 L523.5,547.3 L526.5,546.2 L529.5,545.0 L532.5,543.8 L535.5,542.6 L538.5,541.3 L541.5,540.1 L544.5,538.8 L547.5,537.5 L550.5,536.2 L553.5,534.9 L556.5,533.5 L559.5,532.1 L562.5,530.7 L565.5,529.3 L568.5,527.9 L571.5,526.4 L574.5,525.0 L577.5,523.4 L580.5,521.9 L583.5,520.4 L586.5,518.8 L589.5,517.2 L592.5,515.6 L595.5,514.0 L598.5,512.3 L601.5,510.6 L604.5,508.9 L607.5,507.2 L610.5,505.4 L613.5,503.6 L616.5,501.8 L619.5,500.0 L622.5,498.2 L625.5,496.3 L628.5,494.4 L631.5,492.5 L634.5,490.6 L637.5,488.6 L640.5,486.7 L643.5,484.7 L646.5,482.7 L649.5,480.7 L652.5,478.6 L655.5,476.6 L658.5,474.5 L661.5,472.4 L664.5,470.3 L667.5,468.2 L670.5,466.0 L673.5,463.9 L676.5,461.7 L679.5,459.5 L682.5,457.3 L685.5,455.1 L688.5,452.9 L691.5,450.6 L694.5,448.4 L697.5,446.1 L700.5,443.8 L703.5,441.5 L706.5,439.2 L709.5,436.9 L712.5,434.6 L715.5,432.2 L718.5,429.9 L721.5,427.5 L724.5,425.1 L727.5,422.7 L730.5,420.3 L733.5,417.8 L736.5,415.3 L739.5,412.9 L742.5,410.4 L745.5,407.8 L748.5,405.3 L751.5,402.7 L754.5,400.1 L757.5,397.5 L760.5,394.8 L763.5,392.1 L766.5,389.4 L769.5,386.7 L772.5,383.9 L775.5,381.1 L778.5,378.2 L781.5,375.4 L784.5,372.5 L787.5,369.5 L790.5,366.6 L793.5,363.5 L796.5,360.5 L799.5,357.4 L802.5,354.3 L805.5,351.1 L808.5,347.9 L811.5,344.7 L814.5,341.4 L817.5,338.0 L820.5,334.6 L823.5,331.2 L826.5,327.7 L829.5,324.2 L832.5,320.6 L835.5,317.0 L838.5,313.3 L841.5,309.6 L844.5,305.8 L847.5,301.9 L850.5,298.0 L853.5,294.0 L856.5,290.0 L859.5,285.9 L860.0,285.2" fill="none" stroke="#CD0BBC" stroke-width="2.2" stroke-linejoin="round" />
<text transform="translate(187.20,115.70) scale(0.91,1.13)" font-size="14.5" text-anchor="middle" stroke="#000" stroke-width="0.35">17</text>
<text transform="translate(187.20,248.90) scale(0.91,1.13)" font-size="14.5" text-anchor="middle" stroke="#000" stroke-width="0.35">28</text>
<text transform="translate(187.20,248.60) scale(0.91,1.13)" font-size="14.5" text-anchor="middle" stroke="#000" stroke-width="0.35">21</text>
<text transform="translate(187.20,280.60) scale(0.91,1.13)" font-size="14.5" text-anchor="middle" stroke="#000" stroke-width="0.35">22</text>
<text transform="translate(187.20,284.60) scale(0.91,1.13)" font-size="14.5" text-anchor="middle" stroke="#000" stroke-width="0.35">11</text>
<text transform="translate(187.20,289.00) scale(0.91,1.13)" font-size="14.5" text-anchor="middle" stroke="#000" stroke-width="0.35">9</text>
<text transform="translate(187.20,292.80) scale(0.91,1.13)" font-size="14.5" text-anchor="middle" stroke="#000" stroke-width="0.35">4</text>
<text transform="translate(187.20,296.80) scale(0.91,1.13)" font-size="14.5" text-anchor="middle" stroke="#000" stroke-width="0.35">6</text>
<text transform="translate(187.20,310.30) scale(0.91,1.13)" font-size="14.5" text-anchor="middle" stroke="#000" stroke-width="0.35">29</text>
<text transform="translate(187.20,317.40) scale(0.91,1.13)" font-size="14.5" text-anchor="middle" stroke="#000" stroke-width="0.35">25</text>
<text transform="translate(187.20,347.10) scale(0.91,1.13)" font-size="14.5" text-anchor="middle" stroke="#000" stroke-width="0.35">14</text>
<text transform="translate(187.20,376.60) scale(0.91,1.13)" font-size="14.5" text-anchor="middle" stroke="#000" stroke-width="0.35">26</text>
<text transform="translate(187.20,606.90) scale(0.91,1.13)" font-size="14.5" text-anchor="middle" stroke="#000" stroke-width="0.35">18</text>
<text transform="translate(187.20,610.60) scale(0.91,1.13)" font-size="14.5" text-anchor="middle" stroke="#000" stroke-width="0.35">16</text>
<rect x="176.5" y="88.3" width="947.0" height="535.9000000000001" fill="none" stroke="#000" stroke-width="2.4"/>
<line x1="159" y1="104.0" x2="176.5" y2="104.0" stroke="#000" stroke-width="2.4"/>
<text transform="translate(135.50,104.00) rotate(-90) scale(1.02,1.12)" font-size="30" text-anchor="middle" >1.0</text>
<line x1="159" y1="194.7" x2="176.5" y2="194.7" stroke="#000" stroke-width="2.4"/>
<text transform="translate(135.50,194.70) rotate(-90) scale(1.02,1.12)" font-size="30" text-anchor="middle" >0.5</text>
<line x1="159" y1="285.4" x2="176.5" y2="285.4" stroke="#000" stroke-width="2.4"/>
<text transform="translate(135.50,285.40) rotate(-90) scale(1.02,1.12)" font-size="30" text-anchor="middle" >0.0</text>
<line x1="159" y1="376.1" x2="176.5" y2="376.1" stroke="#000" stroke-width="2.4"/>
<text transform="translate(135.50,376.10) rotate(-90) scale(1.02,1.12)" font-size="30" text-anchor="middle" >-0.5</text>
<line x1="159" y1="466.8" x2="176.5" y2="466.8" stroke="#000" stroke-width="2.4"/>
<text transform="translate(135.50,466.80) rotate(-90) scale(1.02,1.12)" font-size="30" text-anchor="middle" >-1.0</text>
<line x1="159" y1="557.5" x2="176.5" y2="557.5" stroke="#000" stroke-width="2.4"/>
<text transform="translate(135.50,557.50) rotate(-90) scale(1.02,1.12)" font-size="30" text-anchor="middle" >-1.5</text>
<line x1="339.8" y1="624.2" x2="339.8" y2="641.5" stroke="#000" stroke-width="2.4"/>
<text transform="translate(339.80,688.50) scale(1.02,1.12)" font-size="30" text-anchor="middle" >-6</text>
<line x1="339.8" y1="88.3" x2="339.8" y2="82.5" stroke="#000" stroke-width="2.4"/>
<line x1="525.9" y1="624.2" x2="525.9" y2="641.5" stroke="#000" stroke-width="2.4"/>
<text transform="translate(525.90,688.50) scale(1.02,1.12)" font-size="30" text-anchor="middle" >-5</text>
<line x1="525.9" y1="88.3" x2="525.9" y2="82.5" stroke="#000" stroke-width="2.4"/>
<line x1="712.0" y1="624.2" x2="712.0" y2="641.5" stroke="#000" stroke-width="2.4"/>
<text transform="translate(712.00,688.50) scale(1.02,1.12)" font-size="30" text-anchor="middle" >-4</text>
<line x1="712.0" y1="88.3" x2="712.0" y2="82.5" stroke="#000" stroke-width="2.4"/>
<line x1="898.1" y1="624.2" x2="898.1" y2="641.5" stroke="#000" stroke-width="2.4"/>
<text transform="translate(898.10,688.50) scale(1.02,1.12)" font-size="30" text-anchor="middle" >-3</text>
<line x1="898.1" y1="88.3" x2="898.1" y2="82.5" stroke="#000" stroke-width="2.4"/>
<line x1="1084.2" y1="624.2" x2="1084.2" y2="641.5" stroke="#000" stroke-width="2.4"/>
<text transform="translate(1084.20,688.50) scale(1.02,1.12)" font-size="30" text-anchor="middle" >-2</text>
<line x1="1084.2" y1="88.3" x2="1084.2" y2="82.5" stroke="#000" stroke-width="2.4"/>
<text transform="translate(339.80,47.50) scale(1.02,1.12)" font-size="30" text-anchor="middle" >25</text>
<text transform="translate(525.90,47.50) scale(1.02,1.12)" font-size="30" text-anchor="middle" >23</text>
<text transform="translate(712.00,47.50) scale(1.02,1.12)" font-size="30" text-anchor="middle" >21</text>
<text transform="translate(898.10,47.50) scale(1.02,1.12)" font-size="30" text-anchor="middle" >9</text>
<text transform="translate(1084.20,47.50) scale(1.02,1.12)" font-size="30" text-anchor="middle" >1</text>
<text transform="translate(649.20,761.00) scale(0.985,1.04)" font-size="30" text-anchor="middle" >Log Lambda</text>
<text transform="translate(65.00,354.50) rotate(-90) scale(1.0,1.04)" font-size="30" text-anchor="middle" >Coefficients</text>
<path d="M211.8,1199.1V1406.8M202.3,1199.1H221.3M202.3,1406.8H221.3M222.9,1200.2V1407.2M213.4,1200.2H232.4M213.4,1407.2H232.4M233.8,1201.2V1407.6M224.3,1201.2H243.3M224.3,1407.6H243.3M246.6,1202.6V1407.9M237.1,1202.6H256.1M237.1,1407.9H256.1M258.0,1203.9V1408.1M248.5,1203.9H267.5M248.5,1408.1H267.5M268.8,1205.2V1408.3M259.3,1205.2H278.3M259.3,1408.3H278.3M280.2,1206.5V1408.6M270.7,1206.5H289.7M270.7,1408.6H289.7M291.1,1207.8V1409.7M281.6,1207.8H300.6M281.6,1409.7H300.6M302.5,1209.2V1410.8M293.0,1209.2H312.0M293.0,1410.8H312.0M313.4,1210.6V1411.4M303.9,1210.6H322.9M303.9,1411.4H322.9M326.7,1212.4V1412.1M317.2,1212.4H336.2M317.2,1412.1H336.2M337.5,1214.1V1413.0M328.0,1214.1H347.0M328.0,1413.0H347.0M348.7,1215.8V1414.0M339.2,1215.8H358.2M339.2,1414.0H358.2M359.8,1217.5V1414.4M350.3,1217.5H369.3M350.3,1414.4H369.3M371.0,1219.3V1414.8M361.5,1219.3H380.5M361.5,1414.8H380.5M382.1,1222.0V1415.7M372.6,1222.0H391.6M372.6,1415.7H391.6M393.2,1224.6V1416.6M383.7,1224.6H402.7M383.7,1416.6H402.7M406.2,1228.5V1417.7M396.7,1228.5H415.7M396.7,1417.7H415.7M417.1,1231.7V1418.7M407.6,1231.7H426.6M407.6,1418.7H426.6M428.3,1234.4V1420.1M418.8,1234.4H437.8M418.8,1420.1H437.8M439.4,1237.0V1421.4M429.9,1237.0H448.9M429.9,1421.4H448.9M450.5,1239.4V1422.5M441.0,1239.4H460.0M441.0,1422.5H460.0M461.9,1241.9V1423.7M452.4,1241.9H471.4M452.4,1423.7H471.4M472.8,1244.5V1425.7M463.3,1244.5H482.3M463.3,1425.7H482.3M485.7,1247.6V1428.0M476.2,1247.6H495.2M476.2,1428.0H495.2M496.9,1251.6V1429.8M487.4,1251.6H506.4M487.4,1429.8H506.4M508.0,1255.6V1431.5M498.5,1255.6H517.5M498.5,1431.5H517.5M518.9,1259.2V1432.8M509.4,1259.2H528.4M509.4,1432.8H528.4M530.0,1262.8V1434.1M520.5,1262.8H539.5M520.5,1434.1H539.5M541.2,1265.6V1435.1M531.7,1265.6H550.7M531.7,1435.1H550.7M552.3,1268.3V1436.0M542.8,1268.3H561.8M542.8,1436.0H561.8M565.3,1271.9V1436.7M555.8,1271.9H574.8M555.8,1436.7H574.8M576.2,1275.0V1437.3M566.7,1275.0H585.7M566.7,1437.3H585.7M587.3,1278.5V1438.3M577.8,1278.5H596.8M577.8,1438.3H596.8M598.5,1282.1V1439.4M589.0,1282.1H608.0M589.0,1439.4H608.0M609.9,1285.5V1440.0M600.4,1285.5H619.4M600.4,1440.0H619.4M621.0,1288.8V1440.5M611.5,1288.8H630.5M611.5,1440.5H630.5M632.1,1291.6V1440.9M622.6,1291.6H641.6M622.6,1440.9H641.6M645.1,1294.9V1441.3M635.6,1294.9H654.6M635.6,1441.3H654.6M656.3,1296.9V1441.3M646.8,1296.9H665.8M646.8,1441.3H665.8M667.4,1298.8V1441.3M657.9,1298.8H676.9M657.9,1441.3H676.9M678.6,1299.5V1441.0M669.1,1299.5H688.1M669.1,1441.0H688.1M689.7,1300.2V1440.7M680.2,1300.2H699.2M680.2,1440.7H699.2M700.8,1300.8V1440.3M691.3,1300.8H710.3M691.3,1440.3H710.3M712.0,1301.5V1439.9M702.5,1301.5H721.5M702.5,1439.9H721.5M724.7,1302.5V1437.8M715.2,1302.5H734.2M715.2,1437.8H734.2M735.9,1303.3V1436.0M726.4,1303.3H745.4M726.4,1436.0H745.4M746.9,1303.4V1434.6M737.4,1303.4H756.4M737.4,1434.6H756.4M758.0,1302.5V1431.9M748.5,1302.5H767.5M748.5,1431.9H767.5M769.2,1301.2V1428.5M759.7,1301.2H778.7M759.7,1428.5H778.7M780.4,1299.6V1422.9M770.9,1299.6H789.9M770.9,1422.9H789.9M793.4,1297.8V1418.5M783.9,1297.8H802.9M783.9,1418.5H802.9M804.6,1295.1V1413.3M795.1,1295.1H814.1M795.1,1413.3H814.1M815.8,1292.9V1408.4M806.3,1292.9H825.3M806.3,1408.4H825.3M827.0,1290.0V1400.5M817.5,1290.0H836.5M817.5,1400.5H836.5M838.0,1288.4V1394.9M828.5,1288.4H847.5M828.5,1394.9H847.5M849.2,1284.3V1387.1M839.7,1284.3H858.7M839.7,1387.1H858.7M860.4,1279.0V1378.8M850.9,1279.0H869.9M850.9,1378.8H869.9M873.4,1273.1V1367.3M863.9,1273.1H882.9M863.9,1367.3H882.9M884.6,1266.0V1356.3M875.1,1266.0H894.1M875.1,1356.3H894.1M895.4,1258.6V1341.8M885.9,1258.6H904.9M885.9,1341.8H904.9M906.6,1249.1V1328.7M897.1,1249.1H916.1M897.1,1328.7H916.1M917.8,1237.9V1314.2M908.3,1237.9H927.3M908.3,1314.2H927.3M929.0,1229.4V1299.1M919.5,1229.4H938.5M919.5,1299.1H938.5M940.6,1219.5V1285.4M931.1,1219.5H950.1M931.1,1285.4H950.1M953.0,1210.1V1271.5M943.5,1210.1H962.5M943.5,1271.5H962.5M963.7,1196.9V1252.5M954.2,1196.9H973.2M954.2,1252.5H973.2M975.0,1180.3V1230.0M965.5,1180.3H984.5M965.5,1230.0H984.5M986.1,1161.8V1206.3M976.6,1161.8H995.6M976.6,1206.3H995.6M997.3,1141.3V1180.3M987.8,1141.3H1006.8M987.8,1180.3H1006.8M1008.6,1119.5V1152.6M999.1,1119.5H1018.1M999.1,1152.6H1018.1M1019.7,1093.5V1121.1M1010.2,1093.5H1029.2M1010.2,1121.1H1029.2M1032.3,1065.5V1087.5M1022.8,1065.5H1041.8M1022.8,1087.5H1041.8M1043.6,1035.9V1054.4M1034.1,1035.9H1053.1M1034.1,1054.4H1053.1M1054.8,1009.9V1027.0M1045.3,1009.9H1064.3M1045.3,1027.0H1064.3M1066.1,986.3V1006.4M1056.6,986.3H1075.6M1056.6,1006.4H1075.6M1076.8,963.8V989.8M1067.3,963.8H1086.3M1067.3,989.8H1086.3M1087.9,947.2V973.2M1078.4,947.2H1097.4M1078.4,973.2H1097.4" fill="none" stroke="#9C9C9C" stroke-width="2"/>
<circle cx="211.8" cy="1302.8" r="5.6" fill="#FF0000"/>
<circle cx="222.9" cy="1304.7" r="5.6" fill="#FF0000"/>
<circle cx="233.8" cy="1304.7" r="5.6" fill="#FF0000"/>
<circle cx="246.6" cy="1304.7" r="5.6" fill="#FF0000"/>
<circle cx="258.0" cy="1306.5" r="5.6" fill="#FF0000"/>
<circle cx="268.8" cy="1306.5" r="5.6" fill="#FF0000"/>
<circle cx="280.2" cy="1308.6" r="5.6" fill="#FF0000"/>
<circle cx="291.1" cy="1308.6" r="5.6" fill="#FF0000"/>
<circle cx="302.5" cy="1310.5" r="5.6" fill="#FF0000"/>
<circle cx="313.4" cy="1310.5" r="5.6" fill="#FF0000"/>
<circle cx="326.7" cy="1312.1" r="5.6" fill="#FF0000"/>
<circle cx="337.5" cy="1314.0" r="5.6" fill="#FF0000"/>
<circle cx="348.7" cy="1314.0" r="5.6" fill="#FF0000"/>
<circle cx="359.8" cy="1316.1" r="5.6" fill="#FF0000"/>
<circle cx="371.0" cy="1317.9" r="5.6" fill="#FF0000"/>
<circle cx="382.1" cy="1319.8" r="5.6" fill="#FF0000"/>
<circle cx="393.2" cy="1321.4" r="5.6" fill="#FF0000"/>
<circle cx="406.2" cy="1321.4" r="5.6" fill="#FF0000"/>
<circle cx="417.1" cy="1323.5" r="5.6" fill="#FF0000"/>
<circle cx="428.3" cy="1327.2" r="5.6" fill="#FF0000"/>
<circle cx="439.4" cy="1329.1" r="5.6" fill="#FF0000"/>
<circle cx="450.5" cy="1330.7" r="5.6" fill="#FF0000"/>
<circle cx="461.9" cy="1332.5" r="5.6" fill="#FF0000"/>
<circle cx="472.8" cy="1335.2" r="5.6" fill="#FF0000"/>
<circle cx="485.7" cy="1338.4" r="5.6" fill="#FF0000"/>
<circle cx="496.9" cy="1341.1" r="5.6" fill="#FF0000"/>
<circle cx="508.0" cy="1343.7" r="5.6" fill="#FF0000"/>
<circle cx="518.9" cy="1346.4" r="5.6" fill="#FF0000"/>
<circle cx="530.0" cy="1349.2" r="5.6" fill="#FF0000"/>
<circle cx="541.2" cy="1351.1" r="5.6" fill="#FF0000"/>
<circle cx="552.3" cy="1352.9" r="5.6" fill="#FF0000"/>
<circle cx="565.3" cy="1355.1" r="5.6" fill="#FF0000"/>
<circle cx="576.2" cy="1356.9" r="5.6" fill="#FF0000"/>
<circle cx="587.3" cy="1358.9" r="5.6" fill="#FF0000"/>
<circle cx="598.5" cy="1360.9" r="5.6" fill="#FF0000"/>
<circle cx="609.9" cy="1362.5" r="5.6" fill="#FF0000"/>
<circle cx="621.0" cy="1364.1" r="5.6" fill="#FF0000"/>
<circle cx="632.1" cy="1366.0" r="5.6" fill="#FF0000"/>
<circle cx="645.1" cy="1368.3" r="5.6" fill="#FF0000"/>
<circle cx="656.3" cy="1369.9" r="5.6" fill="#FF0000"/>
<circle cx="667.4" cy="1369.9" r="5.6" fill="#FF0000"/>
<circle cx="678.6" cy="1369.9" r="5.6" fill="#FF0000"/>
<circle cx="689.7" cy="1369.9" r="5.6" fill="#FF0000"/>
<circle cx="700.8" cy="1369.9" r="5.6" fill="#FF0000"/>
<circle cx="712.0" cy="1369.9" r="5.6" fill="#FF0000"/>
<circle cx="724.7" cy="1369.9" r="5.6" fill="#FF0000"/>
<circle cx="735.9" cy="1369.9" r="5.6" fill="#FF0000"/>
<circle cx="746.9" cy="1368.1" r="5.6" fill="#FF0000"/>
<circle cx="758.0" cy="1368.1" r="5.6" fill="#FF0000"/>
<circle cx="769.2" cy="1364.7" r="5.6" fill="#FF0000"/>
<circle cx="780.4" cy="1362.0" r="5.6" fill="#FF0000"/>
<circle cx="793.4" cy="1358.4" r="5.6" fill="#FF0000"/>
<circle cx="804.6" cy="1355.0" r="5.6" fill="#FF0000"/>
<circle cx="815.8" cy="1351.2" r="5.6" fill="#FF0000"/>
<circle cx="827.0" cy="1345.6" r="5.6" fill="#FF0000"/>
<circle cx="838.0" cy="1341.8" r="5.6" fill="#FF0000"/>
<circle cx="849.2" cy="1336.1" r="5.6" fill="#FF0000"/>
<circle cx="860.4" cy="1328.8" r="5.6" fill="#FF0000"/>
<circle cx="873.4" cy="1321.6" r="5.6" fill="#FF0000"/>
<circle cx="884.6" cy="1312.0" r="5.6" fill="#FF0000"/>
<circle cx="895.4" cy="1301.2" r="5.6" fill="#FF0000"/>
<circle cx="906.6" cy="1288.0" r="5.6" fill="#FF0000"/>
<circle cx="917.8" cy="1277.2" r="5.6" fill="#FF0000"/>
<circle cx="929.0" cy="1264.4" r="5.6" fill="#FF0000"/>
<circle cx="940.6" cy="1252.6" r="5.6" fill="#FF0000"/>
<circle cx="953.0" cy="1240.1" r="5.6" fill="#FF0000"/>
<circle cx="963.7" cy="1225.3" r="5.6" fill="#FF0000"/>
<circle cx="975.0" cy="1204.7" r="5.6" fill="#FF0000"/>
<circle cx="986.1" cy="1183.8" r="5.6" fill="#FF0000"/>
<circle cx="997.3" cy="1160.2" r="5.6" fill="#FF0000"/>
<circle cx="1008.6" cy="1135.8" r="5.6" fill="#FF0000"/>
<circle cx="1019.7" cy="1108.1" r="5.6" fill="#FF0000"/>
<circle cx="1032.3" cy="1076.6" r="5.6" fill="#FF0000"/>
<circle cx="1043.6" cy="1045.4" r="5.6" fill="#FF0000"/>
<circle cx="1054.8" cy="1019.4" r="5.6" fill="#FF0000"/>
<circle cx="1066.1" cy="995.2" r="5.6" fill="#FF0000"/>
<circle cx="1076.8" cy="976.8" r="5.6" fill="#FF0000"/>
<circle cx="1087.9" cy="960.2" r="5.6" fill="#FF0000"/>
<line x1="712.0" y1="927.2" x2="712.0" y2="1462.0" stroke="#000" stroke-width="2.6" stroke-dasharray="4.4 2.76" stroke-dashoffset="3.76"/>
<line x1="884.6" y1="927.2" x2="884.6" y2="1462.0" stroke="#000" stroke-width="2.6" stroke-dasharray="4.4 2.76" stroke-dashoffset="3.76"/>
<rect x="176.5" y="927.2" width="947.0" height="534.8" fill="none" stroke="#000" stroke-width="2.4"/>
<line x1="159" y1="1419.3" x2="176.5" y2="1419.3" stroke="#000" stroke-width="2.4"/>
<text transform="translate(135.50,1419.30) rotate(-90) scale(1.02,1.12)" font-size="30" text-anchor="middle" >1.10</text>
<line x1="159" y1="1333.6" x2="176.5" y2="1333.6" stroke="#000" stroke-width="2.4"/>
<text transform="translate(135.50,1333.64) rotate(-90) scale(1.02,1.12)" font-size="30" text-anchor="middle" >1.15</text>
<line x1="159" y1="1248.0" x2="176.5" y2="1248.0" stroke="#000" stroke-width="2.4"/>
<text transform="translate(135.50,1247.98) rotate(-90) scale(1.02,1.12)" font-size="30" text-anchor="middle" >1.20</text>
<line x1="159" y1="1162.3" x2="176.5" y2="1162.3" stroke="#000" stroke-width="2.4"/>
<text transform="translate(135.50,1162.32) rotate(-90) scale(1.02,1.12)" font-size="30" text-anchor="middle" >1.25</text>
<line x1="159" y1="1076.7" x2="176.5" y2="1076.7" stroke="#000" stroke-width="2.4"/>
<text transform="translate(135.50,1076.66) rotate(-90) scale(1.02,1.12)" font-size="30" text-anchor="middle" >1.30</text>
<line x1="159" y1="991.0" x2="176.5" y2="991.0" stroke="#000" stroke-width="2.4"/>
<text transform="translate(135.50,991.00) rotate(-90) scale(1.02,1.12)" font-size="30" text-anchor="middle" >1.35</text>
<line x1="228.0" y1="1462.0" x2="228.0" y2="1479.5" stroke="#000" stroke-width="2.4"/>
<text transform="translate(228.00,1526.50) scale(1.02,1.12)" font-size="30" text-anchor="middle" >-9</text>
<line x1="350.6" y1="1462.0" x2="350.6" y2="1479.5" stroke="#000" stroke-width="2.4"/>
<text transform="translate(350.56,1526.50) scale(1.02,1.12)" font-size="30" text-anchor="middle" >-8</text>
<line x1="473.1" y1="1462.0" x2="473.1" y2="1479.5" stroke="#000" stroke-width="2.4"/>
<text transform="translate(473.12,1526.50) scale(1.02,1.12)" font-size="30" text-anchor="middle" >-7</text>
<line x1="595.7" y1="1462.0" x2="595.7" y2="1479.5" stroke="#000" stroke-width="2.4"/>
<text transform="translate(595.68,1526.50) scale(1.02,1.12)" font-size="30" text-anchor="middle" >-6</text>
<line x1="718.2" y1="1462.0" x2="718.2" y2="1479.5" stroke="#000" stroke-width="2.4"/>
<text transform="translate(718.24,1526.50) scale(1.02,1.12)" font-size="30" text-anchor="middle" >-5</text>
<line x1="840.8" y1="1462.0" x2="840.8" y2="1479.5" stroke="#000" stroke-width="2.4"/>
<text transform="translate(840.80,1526.50) scale(1.02,1.12)" font-size="30" text-anchor="middle" >-4</text>
<line x1="963.4" y1="1462.0" x2="963.4" y2="1479.5" stroke="#000" stroke-width="2.4"/>
<text transform="translate(963.36,1526.50) scale(1.02,1.12)" font-size="30" text-anchor="middle" >-3</text>
<line x1="1085.9" y1="1462.0" x2="1085.9" y2="1479.5" stroke="#000" stroke-width="2.4"/>
<text transform="translate(1085.92,1526.50) scale(1.02,1.12)" font-size="30" text-anchor="middle" >-2</text>
<text transform="translate(209.70,885.80) scale(1.02,1.12)" font-size="30" text-anchor="middle" >28</text>
<text transform="translate(278.50,885.80) scale(1.02,1.12)" font-size="30" text-anchor="middle" >28</text>
<text transform="translate(347.60,885.80) scale(1.02,1.12)" font-size="30" text-anchor="middle" >28</text>
<text transform="translate(415.60,885.80) scale(1.02,1.12)" font-size="30" text-anchor="middle" >29</text>
<text transform="translate(484.30,885.80) scale(1.02,1.12)" font-size="30" text-anchor="middle" >28</text>
<text transform="translate(551.40,885.80) scale(1.02,1.12)" font-size="30" text-anchor="middle" >26</text>
<text transform="translate(620.20,885.80) scale(1.02,1.12)" font-size="30" text-anchor="middle" >25</text>
<text transform="translate(688.80,885.80) scale(1.02,1.12)" font-size="30" text-anchor="middle" >24</text>
<text transform="translate(756.70,885.80) scale(1.02,1.12)" font-size="30" text-anchor="middle" >22</text>
<text transform="translate(825.50,885.80) scale(1.02,1.12)" font-size="30" text-anchor="middle" >22</text>
<text transform="translate(894.70,885.80) scale(1.02,1.12)" font-size="30" text-anchor="middle" >18</text>
<text transform="translate(950.70,885.80) scale(1.02,1.12)" font-size="30" text-anchor="middle" >9</text>
<text transform="translate(995.70,885.80) scale(1.02,1.12)" font-size="30" text-anchor="middle" >7</text>
<text transform="translate(1041.10,885.80) scale(1.02,1.12)" font-size="30" text-anchor="middle" >3</text>
<text transform="translate(1084.80,885.80) scale(1.02,1.12)" font-size="30" text-anchor="middle" >0</text>
<text transform="translate(65.40,1193.70) rotate(-90) scale(1.01,1.04)" font-size="30" text-anchor="middle" >Binomial Deviance</text>
<text transform="translate(603.50,1590.80) scale(0.985,1.04)" font-size="30" text-anchor="start" >Log</text>
<path d="M665.2,1565.8 C653.2,1574 653.2,1589.5 665.2,1597.6" fill="none" stroke="#000" stroke-width="2"/>
<path d="M684.2,1565.8 C696.2,1574 696.2,1589.5 684.2,1597.6" fill="none" stroke="#000" stroke-width="2"/>
<path d="M666.8,1574.2 C667.8,1570.8 671.2,1570 672.6,1572.6 L677.6,1586 C678.6,1589.2 680.8,1590.6 683.2,1588.4" fill="none" stroke="#000" stroke-width="2.3" stroke-linecap="round"/>
<path d="M674.8,1579.2 L668.2,1590.2" fill="none" stroke="#000" stroke-width="2.7" stroke-linecap="round"/>
</g></svg></body></html>
